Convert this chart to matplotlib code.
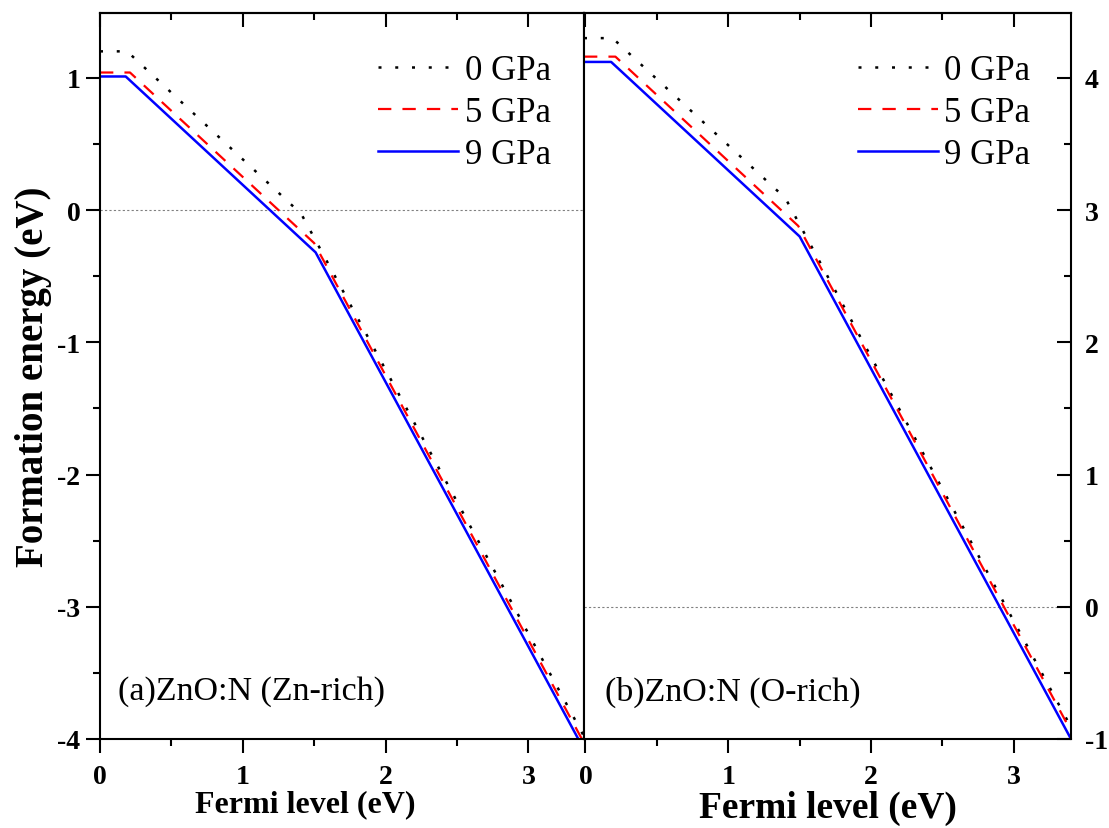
import matplotlib.pyplot as plt
from matplotlib.ticker import MultipleLocator

plt.rcParams['font.family'] = ['Liberation Serif', 'DejaVu Serif']
plt.rcParams['font.weight'] = 'bold'
plt.rcParams['axes.unicode_minus'] = False
plt.rcParams['xtick.labelsize'] = 20
plt.rcParams['ytick.labelsize'] = 20

# (a) Zn-rich : Fermi level (eV) vs formation energy (eV)
zn_x_0gpa = [0.00, 0.19, 1.41, 3.39]
zn_e_0gpa = [1.20, 1.20, -0.03, -3.98]
zn_x_5gpa = [0.00, 0.21, 1.50, 3.39]
zn_e_5gpa = [1.04, 1.04, -0.25, -4.03]
zn_x_9gpa = [0.00, 0.18, 1.51, 3.39]
zn_e_9gpa = [1.01, 1.01, -0.32, -4.08]

# (b) O-rich
o_x_0gpa = [-0.01, 0.19, 1.40, 3.40]
o_e_0gpa = [4.30, 4.30, 3.09, -0.91]
o_x_5gpa = [-0.01, 0.21, 1.49, 3.40]
o_e_5gpa = [4.16, 4.16, 2.88, -0.94]
o_x_9gpa = [-0.01, 0.18, 1.50, 3.40]
o_e_9gpa = [4.12, 4.12, 2.80, -1.00]

labels = ['0 GPa', '5 GPa', '9 GPa']

W, H = 1109, 829
fig = plt.figure(figsize=(W/100, H/100), dpi=100)
bot = (H-740)/H
hgt = (740-14)/H
ax1 = fig.add_axes([100/W, bot, 484/W, hgt])
ax2 = fig.add_axes([584/W, bot, 487/W, hgt])

styles = [dict(color='black', lw=1.8, ls=(0, (1.2, 5.5))),
          dict(color='red', lw=1.6, ls=(0, (6, 5))),
          dict(color='blue', lw=1.8, ls='-')]

for xs, es, st, lab in zip([zn_x_0gpa, zn_x_5gpa, zn_x_9gpa],
                           [zn_e_0gpa, zn_e_5gpa, zn_e_9gpa], styles, labels):
    ax1.plot(xs, es, label=lab, **st)
for xs, es, st, lab in zip([o_x_0gpa, o_x_5gpa, o_x_9gpa],
                           [o_e_0gpa, o_e_5gpa, o_e_9gpa], styles, labels):
    ax2.plot(xs, es, label=lab, **st)

for ax in (ax1, ax2):
    ax.axhline(0, color='gray', lw=0.8, ls=(0, (2, 2)), zorder=0)
    for sp in ax.spines.values():
        sp.set_linewidth(1.5)
    ax.xaxis.set_major_locator(MultipleLocator(1))
    ax.xaxis.set_minor_locator(MultipleLocator(0.5))
    ax.yaxis.set_major_locator(MultipleLocator(1))
    ax.yaxis.set_minor_locator(MultipleLocator(0.5))
    ax.tick_params(axis='x', which='both', direction='out', top=False, width=1.5)
    ax.tick_params(axis='x', which='major', length=10, pad=8)
    ax.tick_params(axis='x', which='minor', length=5)
    top = ax.secondary_xaxis('top')
    top.xaxis.set_major_locator(MultipleLocator(1))
    top.xaxis.set_minor_locator(MultipleLocator(0.5))
    top.tick_params(which='both', direction='in', width=1.5, labeltop=False)
    top.tick_params(which='major', length=10)
    top.tick_params(which='minor', length=5)
    top.spines['top'].set_linewidth(1.5)
    ax.legend(loc='upper left', frameon=False, prop={'size': 25, 'weight': 'normal'},
              handlelength=2.3, handletextpad=0.2, labelspacing=0.26, borderpad=0,
              borderaxespad=0,
              bbox_to_anchor=(0.575 if ax is ax1 else 0.562, 0.943))

ax1.set_xlim(0, 3.39)
ax1.set_ylim(-4, 1.49)
ax1.tick_params(axis='y', which='both', direction='out', left=True, right=False, width=1.5)
ax1.tick_params(axis='y', which='major', length=10, pad=4)
ax1.tick_params(axis='y', which='minor', length=5)
ax1.set_ylabel('Formation energy (eV)', fontsize=28, fontweight='bold', labelpad=4)
ax1.set_xlabel('Fermi level (eV)', fontsize=23, fontweight='bold')
ax1.xaxis.set_label_coords(0.424, -0.069)
ax1.text(0.037, 0.066, '(a)ZnO:N (Zn-rich)', transform=ax1.transAxes,
         fontsize=24.5, fontweight='normal', va='center', ha='left')

ax2.set_xlim(-0.01, 3.40)
ax2.set_ylim(-1, 4.49)
ax2.tick_params(axis='y', which='both', direction='in', left=False, right=True,
                labelleft=False, labelright=True, width=1.5)
ax2.tick_params(axis='y', which='major', length=10, pad=10)
ax2.tick_params(axis='y', which='minor', length=5)
ax2.set_xlabel('Fermi level (eV)', fontsize=27, fontweight='bold')
ax2.xaxis.set_label_coords(0.5, -0.07)
ax2.text(0.043, 0.066, '(b)ZnO:N (O-rich)', transform=ax2.transAxes,
         fontsize=24.5, fontweight='normal', va='center', ha='left')

fig.savefig('out.png', dpi=100)
